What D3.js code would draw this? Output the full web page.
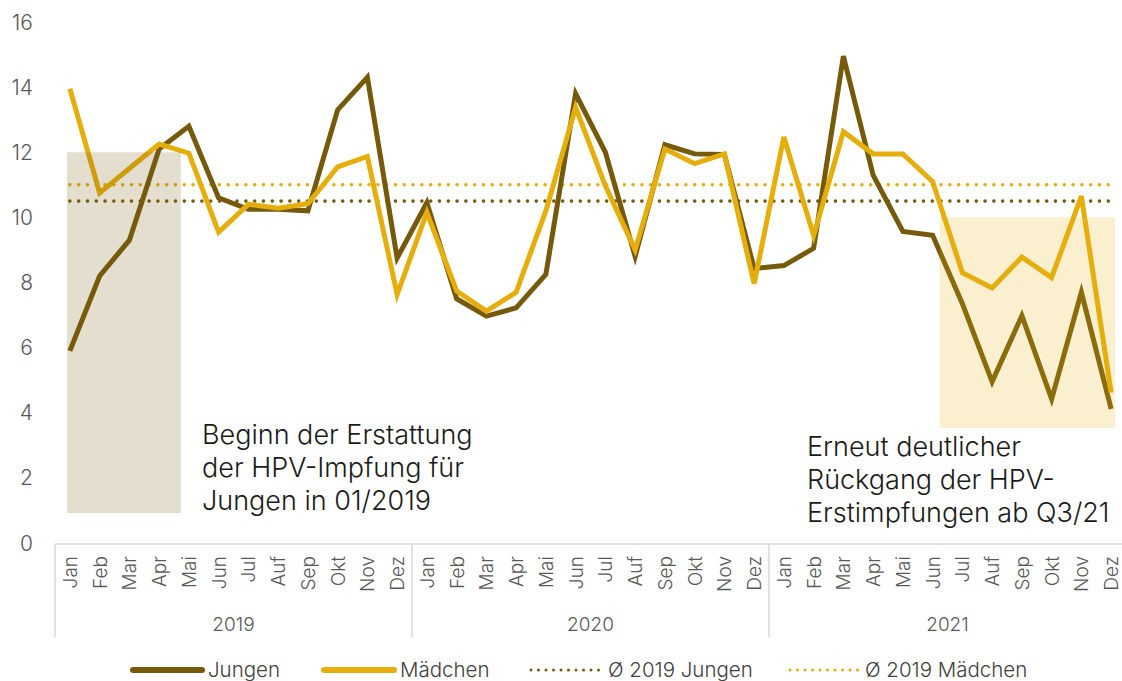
<!DOCTYPE html>
<html>
<head>
<meta charset="utf-8">
<script src="https://cdn.jsdelivr.net/npm/d3@7"></script>
<style>
  body { margin: 0; background: #fff; }
  svg { display: block; font-family: Inter, "Noto Sans", sans-serif; }
</style>
</head>
<body>
<svg width="1122" height="681"></svg>
<script>
// data
var years = ["2019", "2020", "2021"];
var months = ["Jan", "Feb", "Mar", "Apr", "Mai", "Jun", "Jul", "Auf", "Sep", "Okt", "Nov", "Dez"];
var jungen = [5.9, 8.2, 9.3, 12.1, 12.8, 10.6, 10.25, 10.25, 10.2, 13.3, 14.3, 8.75,
              10.45, 7.5, 6.97, 7.22, 8.25, 13.8, 12.0, 8.8, 12.23, 11.95, 11.93, 8.43,
              8.52, 9.05, 14.95, 11.3, 9.57, 9.45, 7.35, 4.95, 6.98, 4.42, 7.7, 4.12];
var maedchen = [13.95, 10.75, 11.5, 12.25, 11.97, 9.55, 10.4, 10.28, 10.42, 11.55, 11.87, 7.63,
                10.15, 7.74, 7.12, 7.7, 10.2, 13.38, 10.97, 9.0, 12.1, 11.65, 11.95, 7.96,
                12.47, 9.44, 12.63, 11.95, 11.95, 11.1, 8.3, 7.83, 8.78, 8.15, 10.65, 4.62];
var avgJungen = 10.5;
var avgMaedchen = 11.0;
var yTicks = [0, 2, 4, 6, 8, 10, 12, 14, 16];

var cDark = "#765a0c", cGold = "#e6ae0b";

var svg = d3.select("svg");
var plotLeft = 55, plotRight = 1126, plotTop = 22, plotBottom = 543;

var keys = [];
years.forEach(function(yr) { months.forEach(function(m) { keys.push(yr + "-" + m); }); });

var x = d3.scaleBand().domain(keys).range([plotLeft, plotRight]);
var bw = x.bandwidth();
function xc(k) { return x(k) + bw / 2; }
var y = d3.scaleLinear().domain([0, 16]).range([plotBottom, plotTop]);

// y labels
svg.append("g").selectAll("text")
   .data(yTicks).enter().append("text")
   .attr("x", 33).attr("y", function(d) { return y(d); })
   .attr("dy", "0.36em")
   .attr("text-anchor", "end")
   .style("font-size", "21px").style("font-weight", 300)
   .attr("fill", "#595959")
   .text(function(d) { return d; });

// x axis: base line, year separators, month + year labels
var ax = svg.append("g");
ax.append("line")
  .attr("x1", plotLeft).attr("x2", plotRight).attr("y1", plotBottom + 1).attr("y2", plotBottom + 1)
  .attr("stroke", "#d9d9d9").attr("stroke-width", 1.5);
var sep = [0, 12, 24].map(function(i) { return x(keys[i]); }).concat([plotRight]);
ax.selectAll(".sep").data(sep).enter().append("line")
  .attr("x1", function(d) { return d; }).attr("x2", function(d) { return d; })
  .attr("y1", plotBottom + 1).attr("y2", 637)
  .attr("stroke", "#d9d9d9").attr("stroke-width", 1.5);
ax.selectAll(".m").data(keys).enter().append("text")
  .attr("transform", function(d) { return "translate(" + (xc(d) + 7) + "," + 556 + ") rotate(-90)"; })
  .attr("text-anchor", "end")
  .style("font-size", "19px").style("font-weight", 300)
  .attr("fill", "#595959")
  .text(function(d) { return d.split("-")[1]; });
ax.selectAll(".yr").data(years).enter().append("text")
  .attr("x", function(d) { return (x(d + "-Jan") + x(d + "-Dez") + bw) / 2; })
  .attr("y", 631)
  .attr("text-anchor", "middle")
  .style("font-size", "19px").style("font-weight", 300)
  .attr("fill", "#595959")
  .text(function(d) { return d; });

// average lines
var first = xc(keys[0]), last = xc(keys[keys.length - 1]);
[[avgJungen, cDark], [avgMaedchen, cGold]].forEach(function(a) {
  svg.append("line")
     .attr("x1", first).attr("x2", last)
     .attr("y1", y(a[0])).attr("y2", y(a[0]))
     .attr("stroke", a[1]).attr("stroke-width", 3.6)
     .attr("stroke-linecap", "round")
     .attr("stroke-dasharray", "0 8.8");
});

// series lines
var line = d3.line().x(function(d, i) { return xc(keys[i]); }).y(function(d) { return y(d); });
svg.append("path").datum(jungen)
   .attr("d", line).attr("fill", "none")
   .attr("stroke", cDark).attr("stroke-width", 5).attr("stroke-linejoin", "miter");
svg.append("path").datum(maedchen)
   .attr("d", line).attr("fill", "none")
   .attr("stroke", cGold).attr("stroke-width", 5).attr("stroke-linejoin", "miter");

// highlight boxes (drawn on top, translucent)
svg.append("rect")
   .attr("x", xc(keys[0]) - 3).attr("width", x(keys[3]) + bw * 1.23 - xc(keys[0]) + 3)
   .attr("y", y(12)).attr("height", y(0.92) - y(12))
   .attr("fill", cDark).attr("fill-opacity", 0.2);
svg.append("rect")
   .attr("x", xc(keys[29]) + 7).attr("width", xc(keys[35]) + 4 - xc(keys[29]) - 7)
   .attr("y", y(10)).attr("height", y(3.53) - y(10))
   .attr("fill", cGold).attr("fill-opacity", 0.2);

// annotations
function note(lines, x0, y0) {
  var t = svg.append("text").attr("x", x0).attr("y", y0)
     .style("font-size", "27px").style("font-weight", 300).attr("fill", "#1a1a1a");
  lines.forEach(function(s, i) {
    t.append("tspan").attr("x", x0).attr("dy", i ? 33 : 0).text(s);
  });
}
note(["Beginn der Erstattung", "der HPV-Impfung für", "Jungen in 01/2019"], 202, 444);
note(["Erneut deutlicher", "Rückgang der HPV-", "Erstimpfungen ab Q3/21"], 807, 456);

// legend
var leg = [
  {label: "Jungen", color: cDark, x0: 133, x1: 202, dotted: false},
  {label: "Mädchen", color: cGold, x0: 324, x1: 394, dotted: false},
  {label: "Ø 2019 Jungen", color: cDark, x0: 531, x1: 602, dotted: true},
  {label: "Ø 2019 Mädchen", color: cGold, x0: 790, x1: 859, dotted: true}
];
var lg = svg.append("g").selectAll("g").data(leg).enter().append("g");
lg.append("line")
  .attr("x1", function(d) { return d.x0; }).attr("x2", function(d) { return d.x1; })
  .attr("y1", 670).attr("y2", 670)
  .attr("stroke", function(d) { return d.color; })
  .attr("stroke-linecap", "round")
  .attr("stroke-width", function(d) { return d.dotted ? 3 : 6; })
  .attr("stroke-dasharray", function(d) { return d.dotted ? "0 7.5" : null; });
lg.append("text")
  .attr("x", function(d) { return d.x1 + 6; }).attr("y", 677)
  .style("font-size", "20.5px").style("font-weight", 300)
  .attr("fill", "#404040")
  .text(function(d) { return d.label; });
</script>
</body>
</html>
